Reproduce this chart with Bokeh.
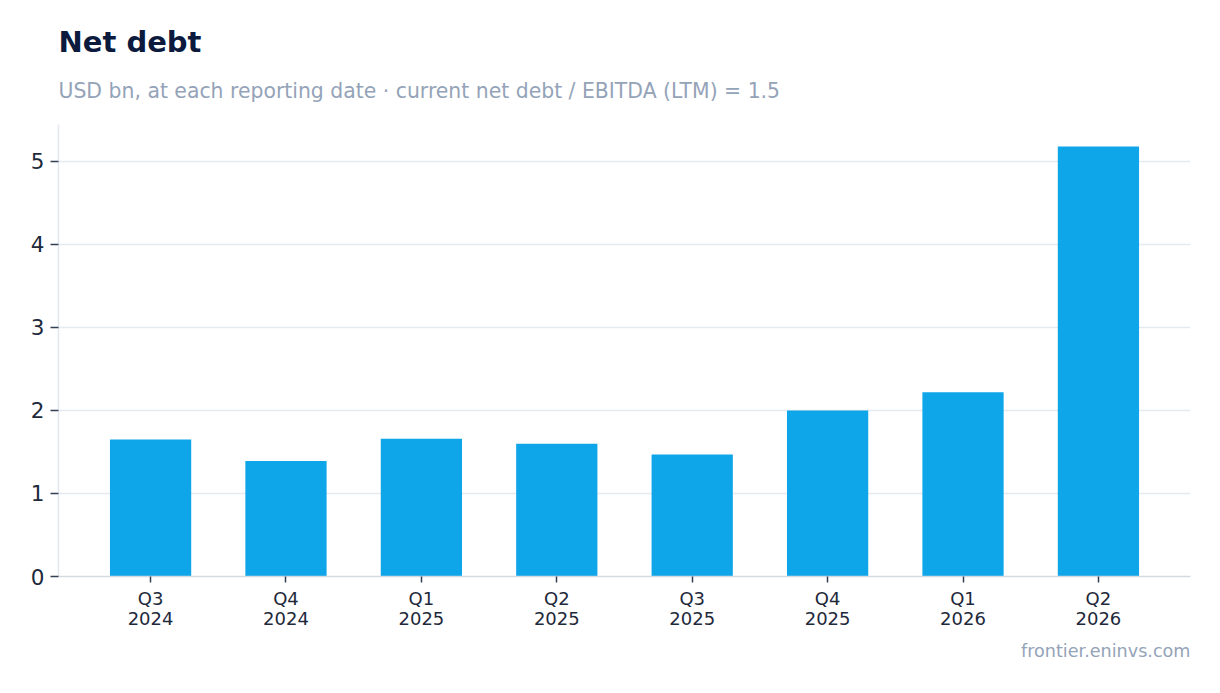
from bokeh.plotting import figure
from bokeh.models import Title, Range1d, FactorRange, CategoricalAxis, CustomJSTickFormatter
from bokeh.embed import file_html
from bokeh.resources import INLINE

quarters = ["Q3", "Q4", "Q1", "Q2", "Q3", "Q4", "Q1", "Q2"]
years = ["2024", "2024", "2025", "2025", "2025", "2025", "2026", "2026"]
net_debt = [1.65, 1.39, 1.66, 1.60, 1.47, 2.00, 2.22, 5.18]

title_text = "Net debt"
subtitle_text = "USD bn, at each reporting date · current net debt / EBITDA (LTM) = 1.5"
source_text = "frontier.eninvs.com"

FONT = "DejaVu Sans"

factors = [f"{q} {y}" for q, y in zip(quarters, years)]

p = figure(
    width=1208, height=672,
    x_range=FactorRange(*factors, range_padding=0.045),
    y_range=Range1d(0, 5.445),
    output_backend="svg", toolbar_location=None,
    min_border_left=58, min_border_right=18, min_border_top=0, min_border_bottom=0,
)
p.title.visible = False

sub = Title(text=subtitle_text, align="left", text_font=FONT, text_font_size="20.4px",
            text_font_style="normal", text_color="#94a3b8", standoff=44)
main = Title(text=title_text, align="left", text_font=FONT, text_font_size="29px",
             text_font_style="bold", text_color="#0b1a3d", standoff=-8.5)
spacer = Title(text=" ", align="left", text_font=FONT, text_font_size="20px",
               text_color="#ffffff", standoff=0)
p.add_layout(sub, "above")
p.add_layout(main, "above")
p.add_layout(spacer, "above")

p.vbar(x=factors, top=net_debt, width=0.6, color="#0ea5e9", line_color=None)

p.outline_line_color = None
p.xgrid.grid_line_color = None
p.ygrid.grid_line_color = "#e5e9f0"
p.ygrid.grid_line_width = 1.5

p.yaxis.ticker = [0, 1, 2, 3, 4, 5]
p.yaxis.axis_line_color = "#e2e8f0"
p.yaxis.axis_line_width = 1.5
p.yaxis.major_tick_line_color = "#334155"
p.yaxis.major_tick_line_width = 1.5
p.yaxis.major_tick_out = 8
p.yaxis.major_tick_in = 0
p.yaxis.minor_tick_line_color = None
p.yaxis.major_label_text_font = FONT
p.yaxis.major_label_text_font_size = "21.5px"
p.yaxis.major_label_text_color = "#1e293b"
p.yaxis.major_label_standoff = 6

xa = p.xaxis[0]
xa.axis_line_color = "#d5d9e2"
xa.axis_line_width = 1.5
xa.major_tick_line_color = "#334155"
xa.major_tick_line_width = 1.5
xa.major_tick_out = 6
xa.major_tick_in = 0
xa.major_label_text_font = FONT
xa.major_label_text_font_size = "18px"
xa.major_label_text_color = "#1e293b"
xa.major_label_standoff = 5
xa.formatter = CustomJSTickFormatter(code="return String(tick).split(' ')[0];")

ya = CategoricalAxis(
    formatter=CustomJSTickFormatter(code="return String(tick).split(' ')[1];"),
    axis_line_color=None, major_tick_line_color=None,
    major_tick_out=0, major_tick_in=0,
    major_label_text_font=FONT, major_label_text_font_size="18px",
    major_label_text_color="#1e293b", major_label_standoff=0,
)
p.add_layout(ya, "below")

foot = Title(text=source_text, align="right", text_font=FONT, text_font_size="17.6px",
             text_font_style="normal", text_color="#94a3b8", standoff=23)
p.add_layout(foot, "below")

open("out.html", "w").write(file_html(p, INLINE))
